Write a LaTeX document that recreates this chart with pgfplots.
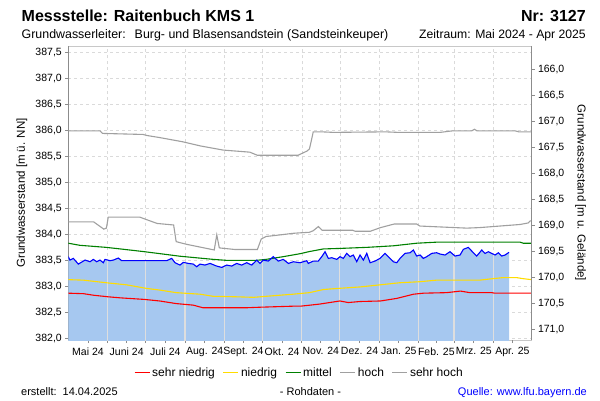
\documentclass[border=0pt]{standalone}
\usepackage{fontspec}
\setmainfont{Liberation Sans}
\usepackage{pgfplots}
\pgfplotsset{compat=1.18}
\definecolor{fillblue}{RGB}{166,200,240}
\definecolor{gridgray}{RGB}{218,218,218}
\definecolor{sepgray}{RGB}{222,222,222}
\definecolor{axgray}{RGB}{140,140,140}
\definecolor{topgray}{RGB}{200,200,200}
\definecolor{thrgray}{RGB}{160,160,160}
\definecolor{thryellow}{RGB}{255,220,0}
\definecolor{thrgreen}{RGB}{0,128,0}
\definecolor{thrred}{RGB}{255,0,0}
\definecolor{linkblue}{RGB}{0,0,255}

\begin{document}
\begin{tikzpicture}[x=1pt,y=1pt]
\path[use as bounding box] (0,0) rectangle (600,400);
\begin{axis}[
  at={(68.3pt,60pt)}, anchor=south west,
  width=463.2pt, height=294pt, scale only axis,
  xmin=0, xmax=365, ymin=381.97, ymax=387.62,
  separate axis lines,
  x axis line style={draw=topgray, line width=0.8pt},
  y axis line style={draw=axgray, line width=1.3pt},
  xtick={31,61,92,123,153,184,214,245,276,304,335},
  xticklabels={},
  xtick pos=bottom,
  x tick style={draw=axgray, line width=0.8pt},
  extra x ticks={15.5,46,76.5,107.5,138,168.5,199,229.5,260.5,290,319.5,350},
  extra x tick labels={Mai 24,Juni 24,Juli 24,Aug. 24,Sept. 24,Okt. 24,Nov. 24,Dez. 24,Jan. 25,Feb. 25,Mrz. 25,Apr. 25},
  extra x tick style={grid=none, tick style={draw=none}},
  xticklabel style={font=\fontsize{10.5}{12}\selectfont, anchor=north, yshift=-1pt},
  ytick={382,382.5,...,387.5},
  ytick pos=left,
  tick align=outside,
  major tick length=3pt,
  y tick style={draw=axgray, line width=1pt},
  yticklabel style={font=\fontsize{10.5}{12}\selectfont, /pgf/number format/.cd, fixed, fixed zerofill, precision=1, use comma, assume math mode=true},
  grid=major,
  major grid style={draw=gridgray, dash pattern=on 3pt off 3pt, line width=0.6pt},
  every axis y label/.style={at={(axis description cs:0,0.5)}, xshift=-46.3pt, rotate=90, anchor=center, font=\fontsize{11.5}{13}\selectfont},
  ylabel={Grundwasserstand [m ü. NN]},
  legend columns=5,
  legend style={at={(0.499,-0.111)}, anchor=center, draw=none, fill=none, font=\fontsize{12}{14}\selectfont,
    /tikz/every even column/.append style={column sep=6pt}},
  legend image code/.code={\draw[#1] (0pt,0pt) -- (15pt,0pt);},
]
% measured level, filled
\addplot[fill=fillblue, draw=none, forget plot] coordinates {
(0,381.9) (0,383.571) (1.3,383.506) (4.0,383.538) (7.9,383.429) (13.2,383.506) (17.1,383.474) (19.7,383.519) (22.4,383.474) (25.0,383.506) (27.6,383.455) (28.9,383.519) (32.9,383.494) (35.5,383.506) (39.4,383.545) (42.1,383.494) (59.1,383.494) (77.5,383.494) (81.5,383.538) (84.1,383.455) (88.0,383.410) (90.6,383.462) (94.6,383.442) (98.5,383.429) (101.2,383.378) (103.8,383.429) (107.7,383.410) (111.7,383.442) (116.9,383.391) (120.9,383.365) (124.8,383.410) (128.8,383.391) (132.7,383.442) (136.6,383.410) (140.6,383.455) (144.5,383.410) (148.5,383.506) (151.1,383.442) (153.7,383.506) (157.6,383.487) (161.5,383.571) (165.5,383.487) (169.4,383.519) (173.4,383.442) (177.3,383.474) (182.6,383.455) (185.2,383.474) (187.9,383.494) (189.1,383.442) (193.1,383.487) (197.0,383.487) (199.7,383.571) (202.3,383.667) (204.9,383.538) (207.6,383.551) (211.5,383.519) (214.1,383.571) (216.7,383.538) (219.4,383.635) (222.0,383.571) (224.6,383.603) (227.3,383.474) (229.9,383.603) (232.5,383.506) (235.2,383.635) (237.8,383.455) (241.7,383.487) (245.6,383.538) (249.6,383.635) (252.2,383.571) (256.1,383.474) (258.8,383.455) (261.4,383.538) (265.3,383.635) (269.3,383.647) (271.9,383.699) (274.5,383.583) (277.2,383.603) (279.8,383.538) (282.4,383.571) (286.4,383.635) (290.3,383.647) (292.9,383.622) (296.9,383.603) (300.8,383.667) (304.7,383.583) (308.7,383.603) (311.3,383.712) (315.2,383.750) (319.2,383.647) (321.8,383.583) (325.8,383.699) (328.4,383.635) (331.0,383.667) (333.6,383.635) (336.3,383.603) (338.9,383.647) (341.5,383.583) (344.1,383.603) (347.3,383.654) (347.3,381.9)
} -- cycle;
% month separators inside fill
\addplot[sepgray, line width=1.2pt, forget plot] coordinates {(31,381.9) (31,383.50)};
\addplot[sepgray, line width=1.2pt, forget plot] coordinates {(61,381.9) (61,383.49)};
\addplot[sepgray, line width=1.2pt, forget plot] coordinates {(92,381.9) (92,383.455)};
\addplot[sepgray, line width=1.2pt, forget plot] coordinates {(123,381.9) (123,383.39)};
\addplot[sepgray, line width=1.2pt, forget plot] coordinates {(153,381.9) (153,383.49)};
\addplot[sepgray, line width=1.2pt, forget plot] coordinates {(184,381.9) (184,383.465)};
\addplot[sepgray, line width=1.2pt, forget plot] coordinates {(214,381.9) (214,383.57)};
\addplot[sepgray, line width=1.2pt, forget plot] coordinates {(245,381.9) (245,383.53)};
\addplot[sepgray, line width=1.2pt, forget plot] coordinates {(276,381.9) (276,383.59)};
\addplot[sepgray, line width=1.2pt, forget plot] coordinates {(304,381.9) (304,383.585)};
\addplot[sepgray, line width=1.2pt, forget plot] coordinates {(335,381.9) (335,383.63)};
% thresholds
\addplot[thrred, line width=1.1pt] coordinates {
(0,382.87) (12,382.86) (20,382.83) (31.5,382.80) (41,382.78) (60,382.75) (72,382.72) (85,382.67) (98.5,382.64) (106,382.59) (140.6,382.59) (151,382.60) (164,382.61) (177,382.62) (183,382.62) (198,382.66) (214,382.72) (220.6,382.69) (230,382.71) (246,382.72) (259,382.77) (272,382.85) (280,382.87) (298,382.88) (309,382.91) (316.5,382.88) (333.6,382.88) (336,382.87) (365,382.87)
};
\addlegendentry{sehr niedrig}
\addplot[thryellow, line width=1.1pt] coordinates {
(0,383.13) (12,383.12) (30,383.07) (46,383.03) (62,382.96) (72,382.93) (85,382.88) (104,382.85) (114,382.81) (133,382.80) (146,382.79) (156,382.81) (177,382.85) (190,382.88) (201,382.94) (211.5,382.96) (230,382.99) (245.6,383.03) (261,383.07) (277,383.09) (290,383.12) (324,383.12) (335,383.15) (343,383.17) (353,383.17) (358,383.15) (365,383.13)
};
\addlegendentry{niedrig}
\addplot[thrgreen, line width=1.1pt] coordinates {
(0,383.83) (9,383.79) (30,383.75) (41,383.72) (59,383.67) (72,383.63) (88,383.58) (101,383.55) (114,383.52) (125,383.50) (148,383.50) (156,383.52) (169,383.57) (183,383.63) (190,383.67) (201,383.72) (214,383.73) (235,383.75) (256,383.78) (274.5,383.83) (290,383.85) (356,383.85) (358.5,383.83) (365,383.83)
};
\addlegendentry{mittel}
\addplot[thrgray, line width=1.1pt] coordinates {
(0,384.24) (20,384.24) (28,384.10) (30,384.12) (31.5,384.33) (56.5,384.33) (62,384.28) (70,384.21) (83,384.18) (85,383.86) (93,383.81) (115,383.70) (117,383.99) (119,383.74) (131,383.71) (149,383.71) (152,383.91) (156,383.96) (167,383.99) (177,384.02) (183,384.03) (190,384.04) (193,384.07) (197,384.15) (200,384.08) (224,384.08) (226,384.06) (238,384.06) (246,384.13) (257,384.20) (274.5,384.20) (277,384.16) (314,384.12) (324,384.13) (340,384.16) (356,384.19) (362.5,384.22) (364,384.26) (365,384.26)
};
\addlegendentry{hoch}
\addplot[thrgray, line width=1.1pt] coordinates {
(0,385.99) (25,385.99) (27,385.94) (59,385.92) (62,385.90) (72,385.86) (90,385.78) (104,385.70) (122,385.62) (143,385.58) (149,385.52) (181,385.52) (188,385.60) (190,385.64) (191.5,385.80) (193,385.97) (200,385.97) (209,385.96) (250,385.97) (260,385.96) (293,385.96) (303,385.99) (318,385.99) (320,386.02) (322,385.99) (352,385.99) (355,385.97) (365,385.97)
};
\addlegendentry{sehr hoch}
% measured level line
\addplot[blue, line width=1.1pt, forget plot] coordinates {
(0,383.571) (1.3,383.506) (4.0,383.538) (7.9,383.429) (13.2,383.506) (17.1,383.474) (19.7,383.519) (22.4,383.474) (25.0,383.506) (27.6,383.455) (28.9,383.519) (32.9,383.494) (35.5,383.506) (39.4,383.545) (42.1,383.494) (59.1,383.494) (77.5,383.494) (81.5,383.538) (84.1,383.455) (88.0,383.410) (90.6,383.462) (94.6,383.442) (98.5,383.429) (101.2,383.378) (103.8,383.429) (107.7,383.410) (111.7,383.442) (116.9,383.391) (120.9,383.365) (124.8,383.410) (128.8,383.391) (132.7,383.442) (136.6,383.410) (140.6,383.455) (144.5,383.410) (148.5,383.506) (151.1,383.442) (153.7,383.506) (157.6,383.487) (161.5,383.571) (165.5,383.487) (169.4,383.519) (173.4,383.442) (177.3,383.474) (182.6,383.455) (185.2,383.474) (187.9,383.494) (189.1,383.442) (193.1,383.487) (197.0,383.487) (199.7,383.571) (202.3,383.667) (204.9,383.538) (207.6,383.551) (211.5,383.519) (214.1,383.571) (216.7,383.538) (219.4,383.635) (222.0,383.571) (224.6,383.603) (227.3,383.474) (229.9,383.603) (232.5,383.506) (235.2,383.635) (237.8,383.455) (241.7,383.487) (245.6,383.538) (249.6,383.635) (252.2,383.571) (256.1,383.474) (258.8,383.455) (261.4,383.538) (265.3,383.635) (269.3,383.647) (271.9,383.699) (274.5,383.583) (277.2,383.603) (279.8,383.538) (282.4,383.571) (286.4,383.635) (290.3,383.647) (292.9,383.622) (296.9,383.603) (300.8,383.667) (304.7,383.583) (308.7,383.603) (311.3,383.712) (315.2,383.750) (319.2,383.647) (321.8,383.583) (325.8,383.699) (328.4,383.635) (331.0,383.667) (333.6,383.635) (336.3,383.603) (338.9,383.647) (341.5,383.583) (344.1,383.603) (347.3,383.654)
};
\end{axis}
% right axis: depth below ground
\begin{axis}[
  at={(68.3pt,60pt)}, anchor=south west,
  width=463.2pt, height=294pt, scale only axis,
  xmin=0, xmax=365, ymin=165.55, ymax=171.20, y dir=reverse,
  axis x line=none, axis y line*=right,
  y axis line style={draw=axgray, line width=1.3pt},
  ytick={166,166.5,...,171},
  tick align=outside,
  major tick length=3pt,
  y tick style={draw=axgray, line width=1pt},
  yticklabel style={font=\fontsize{10.5}{12}\selectfont, /pgf/number format/.cd, fixed, fixed zerofill, precision=1, use comma, assume math mode=true},
  every axis y label/.style={at={(axis description cs:1,0.5)}, xshift=49pt, rotate=-90, anchor=center, font=\fontsize{11.5}{13}\selectfont},
  ylabel={Grundwasserstand [m u. Gelände]},
]
\addplot[draw=none, forget plot] coordinates {(0,166) (365,171)};
\end{axis}
% header and footer texts
\node[anchor=base west, inner sep=0pt, font=\fontsize{16}{18}\selectfont\bfseries] at (21.5,378.5) {Messstelle: Raitenbuch KMS 1};
\node[anchor=base east, inner sep=0pt, font=\fontsize{16}{18}\selectfont\bfseries] at (586,378.5) {Nr: 3127};
\node[anchor=base west, inner sep=0pt, font=\fontsize{12.4}{14}\selectfont] at (21.5,361.5) {Grundwasserleiter:\hspace{9pt}Burg- und Blasensandstein (Sandsteinkeuper)};
\node[anchor=base east, inner sep=0pt, font=\fontsize{12.2}{14}\selectfont] at (586,361.5) {Zeitraum: Mai 2024 - Apr 2025};
\node[anchor=base west, inner sep=0pt, font=\fontsize{11}{13}\selectfont] at (21,5) {erstellt:\hspace{6pt}14.04.2025};
\node[anchor=base, inner sep=0pt, font=\fontsize{11}{13}\selectfont] at (310.5,5) {- Rohdaten -};
\node[anchor=base east, inner sep=0pt, font=\fontsize{11}{13}\selectfont, text=linkblue] at (587,5) {Quelle: www.lfu.bayern.de};
\end{tikzpicture}
\end{document}
